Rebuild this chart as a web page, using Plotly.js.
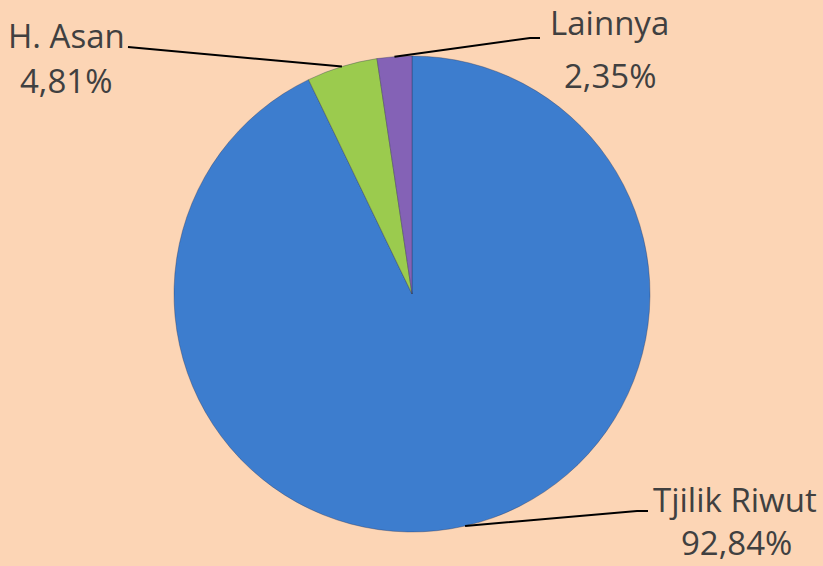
<!DOCTYPE html>
<html>
<head>
<meta charset="utf-8">
<script src="https://cdn.plot.ly/plotly-3.0.1.min.js"></script>
<style>html,body{margin:0;padding:0;background:#FCD5B5;}#chart{width:823px;height:566px;}</style>
</head>
<body>
<div id="chart"></div>
<script>
// Data
var labels = ["Tjilik Riwut", "H. Asan", "Lainnya"];
var values = [92.84, 4.81, 2.35];
var pctText = ["92,84%", "4,81%", "2,35%"];
var colors = ["#3D7DCE", "#9BCB4E", "#8462B6"];

// Layout geometry (pixels)
var W = 823, H = 566;
var dom = {x0: 172, x1: 652, y0: 56, y1: 532};
// label placements: [name center x, name center y, pct center x, pct center y, line start x, line start y, elbow x]
var labelPos = [
  [735, 500, 736, 542, 648, 511, 637],
  [66, 35, 66, 80, 128, 47, 128],
  [609, 22, 610, 75, 540, 38, 530]
];

function px(x){return x / W;}
function py(y){return 1 - y / H;}

var cx = (dom.x0 + dom.x1) / 2, cy = (dom.y0 + dom.y1) / 2;
var R = Math.min(dom.x1 - dom.x0, dom.y1 - dom.y0) / 2;
var total = values.reduce(function(a,b){return a+b;}, 0);

var annotations = [], shapes = [];
var cum = 0;
for (var i = 0; i < values.length; i++) {
  var mid = (cum + values[i] / 2) / total;
  cum += values[i];
  var th = mid * 2 * Math.PI; // clockwise from 12 o'clock
  var ex = cx + R * Math.sin(th), ey = cy - R * Math.cos(th);
  var p = labelPos[i];
  var fnt = {family: "Open Sans", size: 33, color: "#404040"};
  annotations.push({xref:"paper", yref:"paper", x:px(p[0]), y:py(p[1]), text: labels[i], showarrow:false, xanchor:"center", yanchor:"middle", font: fnt});
  annotations.push({xref:"paper", yref:"paper", x:px(p[2]), y:py(p[3]), text: pctText[i], showarrow:false, xanchor:"center", yanchor:"middle", font: fnt});
  shapes.push({type:"path", xref:"paper", yref:"paper",
    path: "M " + px(p[4]) + "," + py(p[5]) + " L " + px(p[6]) + "," + py(p[5]) + " L " + px(ex) + "," + py(ey),
    line:{color:"#000000", width:2}});
}

var trace = {
  type: "pie",
  labels: labels,
  values: values,
  sort: false,
  direction: "clockwise",
  rotation: 0,
  textinfo: "none",
  hoverinfo: "label+percent",
  marker: {colors: colors, line: {color: "rgba(40,50,80,0.35)", width: 1}},
  domain: {x: [px(dom.x0), px(dom.x1)], y: [py(dom.y1), py(dom.y0)]},
  showlegend: false
};

var layout = {
  width: W, height: H,
  margin: {l:0, r:0, t:0, b:0},
  paper_bgcolor: "#FCD5B5",
  plot_bgcolor: "#FCD5B5",
  showlegend: false,
  annotations: annotations,
  shapes: shapes
};

Plotly.newPlot("chart", [trace], layout, {displayModeBar: false, staticPlot: true});
</script>
</body>
</html>
